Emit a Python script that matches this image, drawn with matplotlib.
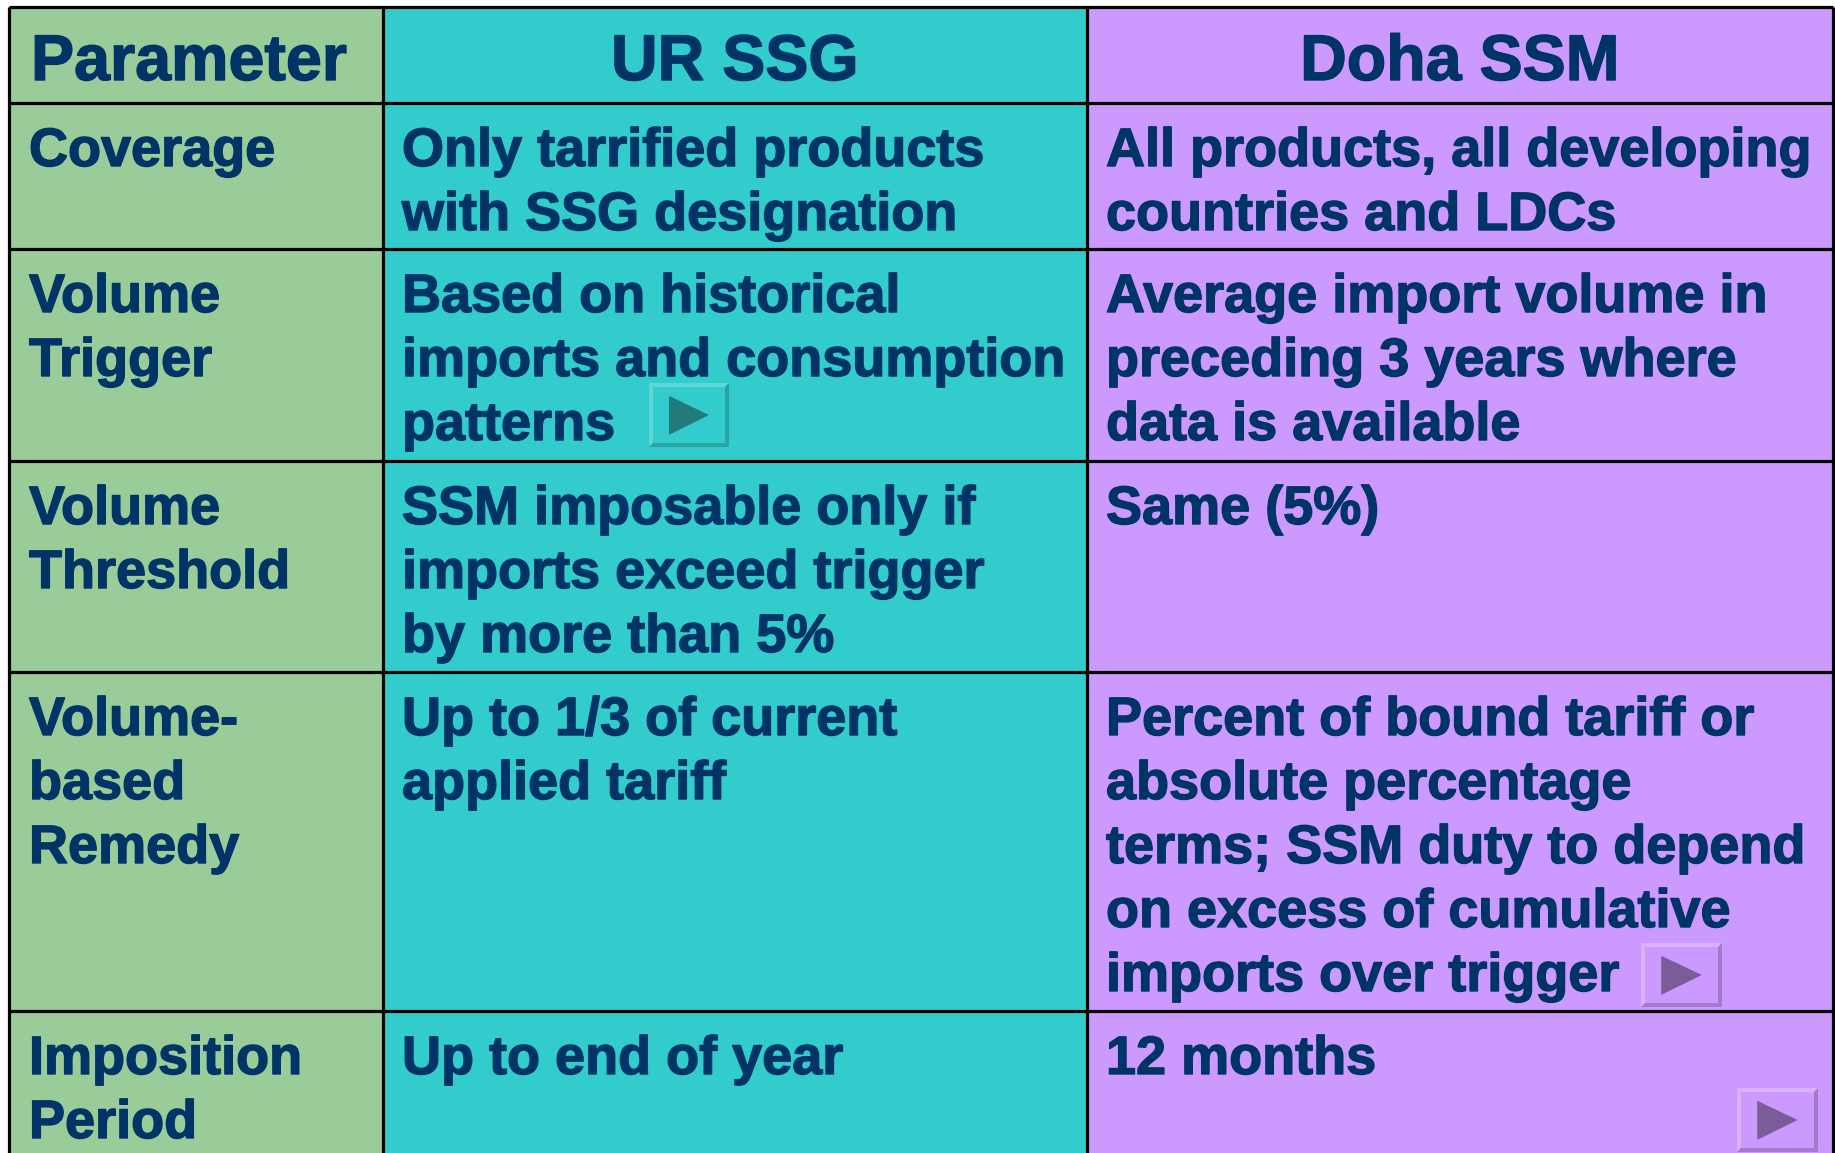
import matplotlib
matplotlib.use("Agg")
import matplotlib.pyplot as plt
import matplotlib.patheffects as pe
from matplotlib.patches import Rectangle, Polygon

# ---- data ----
headers = ["Parameter", "UR SSG", "Doha SSM"]
parameters = [
    ["Coverage"],
    ["Volume", "Trigger"],
    ["Volume", "Threshold"],
    ["Volume-", "based", "Remedy"],
    ["Imposition", "Period"],
]
ur_ssg = [
    ["Only tarrified products", "with SSG designation"],
    ["Based on historical", "imports and consumption", "patterns"],
    ["SSM imposable only if", "imports exceed trigger", "by more than 5%"],
    ["Up to 1/3 of current", "applied tariff"],
    ["Up to end of year"],
]
doha_ssm = [
    ["All products, all developing", "countries and LDCs"],
    ["Average import volume in", "preceding 3 years where", "data is available"],
    ["Same (5%)"],
    ["Percent of bound tariff or", "absolute percentage",
     "terms; SSM duty to depend", "on excess of cumulative",
     "imports over trigger"],
    ["12 months"],
]

# ---- layout (pixels) ----
W, H = 1835, 1153
DPI = 100
col_x = [9, 383, 1087, 1833]
row_y = [7, 103, 249, 461, 672, 1011]
col_fill = ["#99CC99", "#33CCCC", "#CC99FF"]
text_color = "#003366"
font = "Liberation Sans"
body_size = 38.9
head_size = 46.5
text_x = [29, 402, 1106]
line_gap = 64
first_base = 63
heavy = [pe.withStroke(linewidth=1.0, foreground=text_color)]

fig = plt.figure(figsize=(W / DPI, H / DPI), dpi=DPI)
ax = fig.add_axes([0, 0, 1, 1])
ax.set_xlim(0, W)
ax.set_ylim(H, 0)
ax.axis("off")
fig.patch.set_facecolor("white")

# cell fills
for i in range(3):
    ax.add_patch(Rectangle((col_x[i], row_y[0]), col_x[i + 1] - col_x[i],
                           H - row_y[0], facecolor=col_fill[i],
                           edgecolor="none", zorder=1))

# grid lines
lw = 2.3
for x in col_x:
    ax.plot([x, x], [row_y[0], H + 5], color="black", lw=lw, zorder=5,
            solid_capstyle="butt")
for y in row_y:
    ax.plot([col_x[0], col_x[-1]], [y, y], color="black", lw=lw, zorder=5,
            solid_capstyle="butt")

# headers
ax.text(text_x[0] + 2, 80, headers[0], fontsize=head_size, fontweight="bold",
        family=font, color=text_color, va="baseline", ha="left", zorder=6,
        path_effects=heavy)
for i in (1, 2):
    cx = (col_x[i] + col_x[i + 1]) / 2
    ax.text(cx, 80, headers[i], fontsize=head_size, fontweight="bold",
            family=font, color=text_color, va="baseline", ha="center", zorder=6,
            path_effects=heavy)

# body
for r in range(len(parameters)):
    top = row_y[r + 1]
    for c, col in enumerate([parameters, ur_ssg, doha_ssm]):
        for k, line in enumerate(col[r]):
            ax.text(text_x[c], top + first_base + k * line_gap, line,
                    fontsize=body_size, fontweight="bold", family=font,
                    color=text_color, va="baseline", ha="left", zorder=6,
                    path_effects=heavy)


def button(x0, y0, x1, y1, face, light, dark, tri):
    b = 4
    ax.add_patch(Rectangle((x0, y0), x1 - x0, y1 - y0, facecolor=face,
                           edgecolor="none", zorder=7))
    # top and left (light)
    ax.add_patch(Polygon([(x0, y0), (x1, y0), (x1 - b, y0 + b), (x0 + b, y0 + b)],
                         facecolor=light, edgecolor="none", zorder=8))
    ax.add_patch(Polygon([(x0, y0), (x0 + b, y0 + b), (x0 + b, y1 - b), (x0, y1)],
                         facecolor=light, edgecolor="none", zorder=8))
    # bottom and right (dark)
    ax.add_patch(Polygon([(x0, y1), (x0 + b, y1 - b), (x1 - b, y1 - b), (x1, y1)],
                         facecolor=dark, edgecolor="none", zorder=8))
    ax.add_patch(Polygon([(x1, y0), (x1, y1), (x1 - b, y1 - b), (x1 - b, y0 + b)],
                         facecolor=dark, edgecolor="none", zorder=8))
    w = x1 - x0
    h = y1 - y0
    ax.add_patch(Polygon([(x0 + 0.25 * w, y0 + 0.2 * h),
                          (x0 + 0.25 * w, y1 - 0.19 * h),
                          (x1 - 0.25 * w, (y0 + y1) / 2)],
                         facecolor=tri, edgecolor="none", zorder=9))


button(649, 383, 729, 447, "#33CCCC", "#5CD6D6", "#29A3A3", "#217B7B")
button(1641, 943, 1722, 1007, "#CC99FF", "#D9B3FF", "#A37ACC", "#7A5C99")
button(1737, 1088, 1818, 1152, "#CC99FF", "#D9B3FF", "#A37ACC", "#7A5C99")

fig.savefig("out.png", dpi=DPI, facecolor="white")
